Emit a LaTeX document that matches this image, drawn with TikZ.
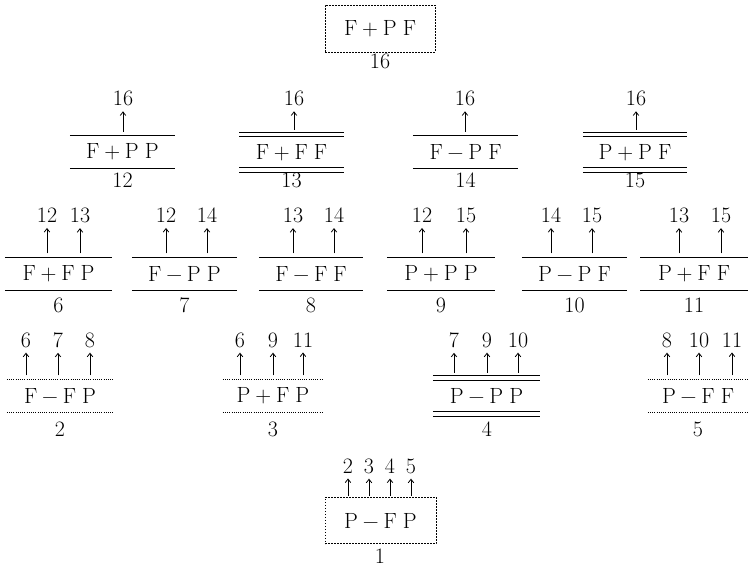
\documentclass[tikz,border=0pt]{standalone}
\usepackage{fontspec}
\usetikzlibrary{arrows.meta,calc}
\newcommand\strat[4]{#1\kern0.22em#2\kern0.22em#3\kern0.28em#4}
\newcommand\twinline[2]{%
  \draw[single] ($(#1)+(0,-2.4)$) -- ($(#2)+(0,-2.4)$);
  \draw[single] ($(#1)+(0,2.4)$) -- ($(#2)+(0,2.4)$);}
\begin{document}
\begin{tikzpicture}[x=1pt,y=-1pt,
  font=\fontsize{22}{26}\selectfont\addfontfeatures{FakeBold=1.4},
  stratum/.style={inner sep=0pt, minimum height=32pt},
  twinstratum/.style={inner sep=0pt, minimum height=35.5pt},
  num/.style={inner sep=0pt},
  refnum/.style={inner sep=0pt},
  up/.style={line width=0.8pt, -{Straight Barb[length=3.5pt,width=5.5pt]}, shorten >=5pt},
  single/.style={line width=0.9pt},
  dots/.style={line width=0.9pt, dash pattern=on 0.8pt off 1.4pt},
  dbox/.style={draw, line width=0.8pt, dash pattern=on 1.6pt off 1.4pt, inner sep=0pt}]

\fill[white] (0,0) rectangle (749,567);
\useasboundingbox (0,0) rectangle (749,567);

% ---------- top ----------
\node[dbox, minimum width=110pt, minimum height=47pt] (s16) at (380,28.5) {\strat{F}{+}{P}{F}};
\node[num] (k16) at (380,61.5) {16};

% ---------- row 2 ----------
\node[stratum, minimum width=105pt] (s12) at (122.5,152) {\strat{F}{+}{P}{P}};
\node[twinstratum, minimum width=104pt] (s13) at (291.5,152.3) {\strat{F}{+}{F}{F}};
\node[stratum, minimum width=105pt] (s14) at (465.5,152) {\strat{F}{−}{P}{F}};
\node[twinstratum, minimum width=104pt] (s15) at (635,152.3) {\strat{P}{+}{P}{F}};
\foreach \n/\x in {12/122.5,13/291.5,14/465.5,15/635}
  \node[num] (k\n) at (\x,180) {\n};
\foreach \n/\x in {12/123,13/294,14/465,15/636}
  \node[refnum] (r\n-16) at (\x,98.7) {16};
\draw[single] (s12.north west) -- (s12.north east) (s12.south west) -- (s12.south east);
\twinline{s13.north west}{s13.north east}
\twinline{s13.south west}{s13.south east}
\draw[single] (s14.north west) -- (s14.north east) (s14.south west) -- (s14.south east);
\twinline{s15.north west}{s15.north east}
\twinline{s15.south west}{s15.south east}
\draw[up] ($(s12.north -| r12-16)+(0,-4)$) -- (r12-16);
\draw[up] ($(s13.north -| r13-16)+(0,-4.5)$) -- (r13-16);
\draw[up] ($(s14.north -| r14-16)+(0,-4)$) -- (r14-16);
\draw[up] ($(s15.north -| r15-16)+(0,-4.5)$) -- (r15-16);

% ---------- row 3 ----------
\node[stratum, minimum width=107pt] (s6) at (58.5,274) {\strat{F}{+}{F}{P}};
\node[stratum, minimum width=105pt] (s7) at (184.5,274) {\strat{F}{−}{P}{P}};
\node[stratum, minimum width=104pt] (s8) at (311,274) {\strat{F}{−}{F}{F}};
\node[stratum, minimum width=108pt] (s9) at (441,274) {\strat{P}{+}{P}{P}};
\node[stratum, minimum width=105pt] (s10) at (574.5,274) {\strat{P}{−}{P}{F}};
\node[stratum, minimum width=107pt] (s11) at (694,274) {\strat{P}{+}{F}{F}};
\foreach \n/\x in {6/58.5,7/184.5,8/311,9/441,10/574.5,11/694}
  \node[num] (k\n) at (\x,305) {\n};
\foreach \s in {6,7,8,9,10,11}
  \draw[single] (s\s.north west) -- (s\s.north east) (s\s.south west) -- (s\s.south east);
\foreach \s/\t/\x in {6/12/47,6/13/80,7/12/166,7/14/207,8/13/293,8/14/334,
                      9/12/422,9/15/466,10/14/551,10/15/592,11/13/679,11/15/721}{
  \node[refnum] (r\s-\t) at (\x,215.5) {\t};
  \draw[up] ($(s\s.north -| r\s-\t)+(0,-4.5)$) -- (r\s-\t);
}

% ---------- row 4 ----------
\node[stratum, minimum width=106pt] (s2) at (60,396) {\strat{F}{−}{F}{P}};
\node[stratum, minimum width=100pt] (s3) at (273,396) {\strat{P}{+}{F}{P}};
\node[twinstratum, minimum width=107pt, minimum height=36pt] (s4) at (486.5,396) {\strat{P}{−}{P}{P}};
\node[stratum, minimum width=100pt] (s5) at (698,396) {\strat{P}{−}{F}{F}};
\foreach \n/\x in {2/60,3/273,4/487,5/698}
  \node[num] (k\n) at (\x,429.5) {\n};
\draw[dots] (s2.north west) -- (s2.north east) (s2.south west) -- (s2.south east);
\draw[dots] (s3.north west) -- (s3.north east) (s3.south west) -- (s3.south east);
\twinline{s4.north west}{s4.north east}
\twinline{s4.south west}{s4.south east}
\draw[dots] (s5.north west) -- (s5.north east) (s5.south west) -- (s5.south east);
\foreach \s/\t/\x/\o in {2/6/26/4.5,2/7/58/4.5,2/8/90/4.5,
                         3/6/240/4.5,3/9/273/4.5,3/11/303/4.5,
                         4/7/454/5,4/9/487/5,4/10/518/5,
                         5/8/667/4.5,5/10/699/4.5,5/11/732/4.5}{
  \node[refnum] (r\s-\t) at (\x,340) {\t};
  \draw[up] ($(s\s.north -| r\s-\t)+(0,-\o)$) -- (r\s-\t);
}

% ---------- bottom ----------
\node[dbox, minimum width=111pt, minimum height=46.5pt] (s1) at (380.5,520.5) {\strat{P}{−}{F}{P}};
\node[num] (k1) at (380,556) {1};
\foreach \t/\x in {2/348,3/369,4/390,5/411}{
  \node[refnum] (r1-\t) at (\x,466) {\t};
  \draw[up] ($(s1.north -| r1-\t)+(0,-0.8)$) -- (r1-\t);
}
\end{tikzpicture}
\end{document}
